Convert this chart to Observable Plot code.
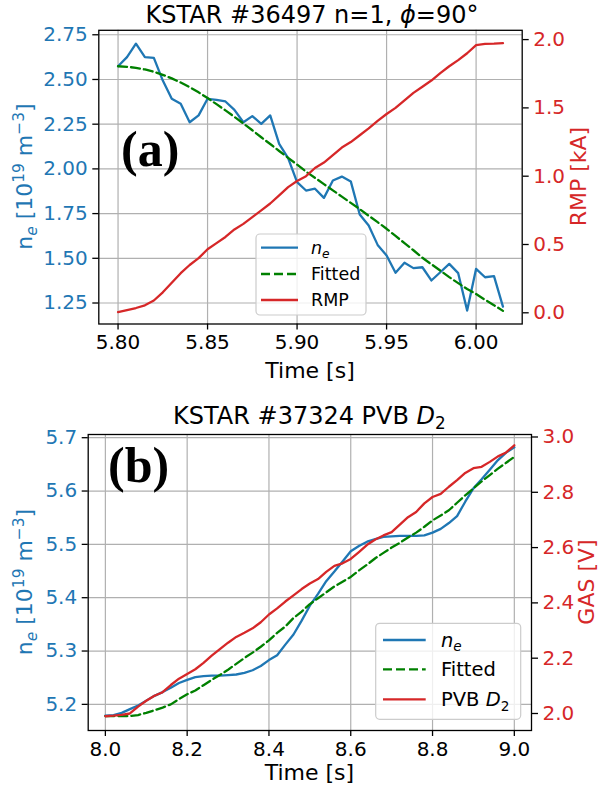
<!DOCTYPE html>
<html><head><meta charset="utf-8">
<script src="https://cdn.jsdelivr.net/npm/d3@7"></script>
<script src="https://cdn.jsdelivr.net/npm/@observablehq/plot@0.6"></script>
<style>
body{margin:0;background:#fff;}
#chart{width:600px;height:795px;overflow:hidden;}
svg{display:block;}
</style></head><body><div id="chart"></div>
<script>
// ---------- Panel (a): KSTAR #36497 ----------
const timeA = [5.800,5.805,5.810,5.815,5.820,5.825,5.830,5.835,5.840,5.845,5.850,5.855,5.860,5.865,5.870,5.875,5.880,5.885,5.890,5.895,5.900,5.905,5.910,5.915,5.920,5.925,5.930,5.935,5.940,5.945,5.950,5.955,5.960,5.965,5.970,5.975,5.980,5.985,5.990,5.995,6.000,6.005,6.010,6.015];
const neA = [2.574,2.625,2.700,2.625,2.621,2.494,2.392,2.364,2.261,2.299,2.392,2.386,2.377,2.330,2.261,2.295,2.252,2.299,2.140,2.060,1.926,1.879,1.889,1.838,1.935,1.957,1.930,1.745,1.683,1.575,1.516,1.419,1.475,1.445,1.450,1.376,1.422,1.469,1.417,1.208,1.441,1.394,1.400,1.230];
const fitA = [2.574,2.571,2.565,2.556,2.543,2.526,2.506,2.483,2.457,2.428,2.396,2.362,2.327,2.291,2.254,2.216,2.177,2.139,2.100,2.062,2.024,1.985,1.950,1.915,1.880,1.845,1.810,1.775,1.738,1.702,1.665,1.625,1.585,1.545,1.503,1.467,1.431,1.395,1.361,1.328,1.300,1.268,1.238,1.206];
const rmpA = [0.005,0.020,0.035,0.055,0.090,0.150,0.220,0.290,0.350,0.400,0.465,0.510,0.555,0.610,0.651,0.700,0.750,0.800,0.860,0.920,0.965,1.000,1.060,1.100,1.155,1.210,1.250,1.300,1.350,1.405,1.455,1.500,1.555,1.610,1.655,1.700,1.755,1.805,1.850,1.900,1.960,1.968,1.970,1.974];
const xTicksA = [5.80,5.85,5.90,5.95,6.00];
const yTicksA = [1.25,1.50,1.75,2.00,2.25,2.50,2.75];
const rTicksA = [0.0,0.5,1.0,1.5,2.0];

// ---------- Panel (b): KSTAR #37324 ----------
const timeB = [8.00,8.02,8.04,8.06,8.08,8.10,8.12,8.14,8.16,8.18,8.20,8.22,8.24,8.26,8.28,8.30,8.32,8.34,8.36,8.38,8.40,8.42,8.44,8.46,8.48,8.50,8.52,8.54,8.56,8.58,8.60,8.62,8.64,8.66,8.68,8.70,8.72,8.74,8.76,8.78,8.80,8.82,8.84,8.86,8.88,8.90,8.92,8.94,8.96,8.98,9.00];
const neB = [5.179,5.180,5.184,5.191,5.198,5.207,5.216,5.223,5.231,5.240,5.246,5.251,5.253,5.254,5.254,5.255,5.256,5.259,5.264,5.272,5.283,5.292,5.312,5.331,5.357,5.385,5.407,5.431,5.449,5.468,5.487,5.497,5.505,5.510,5.514,5.515,5.516,5.516,5.516,5.517,5.522,5.529,5.540,5.553,5.580,5.605,5.622,5.640,5.658,5.672,5.682];
const fitB = [5.178,5.178,5.178,5.178,5.180,5.184,5.189,5.194,5.200,5.210,5.219,5.226,5.236,5.246,5.255,5.265,5.276,5.287,5.297,5.308,5.320,5.334,5.346,5.362,5.374,5.388,5.399,5.410,5.421,5.430,5.439,5.451,5.462,5.474,5.484,5.494,5.503,5.513,5.522,5.533,5.545,5.554,5.564,5.578,5.592,5.605,5.618,5.630,5.642,5.653,5.664];
const gasB = [1.990,1.992,1.995,2.000,2.025,2.046,2.064,2.077,2.103,2.126,2.143,2.160,2.183,2.209,2.233,2.256,2.277,2.292,2.308,2.330,2.358,2.380,2.405,2.427,2.450,2.470,2.486,2.512,2.534,2.543,2.559,2.584,2.610,2.629,2.644,2.656,2.683,2.710,2.729,2.760,2.783,2.794,2.820,2.844,2.870,2.887,2.892,2.910,2.930,2.944,2.970];
const xTicksB = [8.0,8.2,8.4,8.6,8.8,9.0];
const yTicksB = [5.2,5.3,5.4,5.5,5.6,5.7];
const rTicksB = [2.0,2.2,2.4,2.6,2.8,3.0];

const BLUE = "#1f77b4", GREEN = "#008000", RED = "#d62728", GRID = "#b0b0b0";
const FONT = "DejaVu Sans";
const LW = 2.3;

function makePanel(o) {
  const [y0, y1] = o.yDomain, [r0, r1] = o.rDomain;
  const toY = r => y0 + (r - r0) * (y1 - y0) / (r1 - r0);
  const toR = y => r0 + (y - y0) * (r1 - r0) / (y1 - y0);
  const rows = o.t.map((t, i) => ({t, ne: o.ne[i], fit: o.fit[i], sec: toY(o.sec[i])}));
  return Plot.plot({
    width: 600, height: o.height,
    marginLeft: o.ml, marginRight: o.mr, marginTop: o.mt, marginBottom: o.mb,
    style: {fontFamily: FONT, fontSize: o.tickSize + "px", background: "white", color: "black", overflow: "visible"},
    x: {domain: o.xDomain},
    y: {domain: o.yDomain},
    marks: [
      Plot.gridX(o.xTicks, {stroke: GRID, strokeOpacity: 1, strokeWidth: 1.2}),
      Plot.gridY(o.yTicks, {stroke: GRID, strokeOpacity: 1, strokeWidth: 1.2}),
      Plot.line(rows, {x: "t", y: "ne", stroke: BLUE, strokeWidth: LW}),
      Plot.line(rows, {x: "t", y: "fit", stroke: GREEN, strokeWidth: LW, strokeDasharray: "9,4"}),
      Plot.line(rows, {x: "t", y: "sec", stroke: RED, strokeWidth: LW}),
      Plot.frame({stroke: "black", strokeWidth: 1.3}),
      Plot.axisX({ticks: o.xTicks, tickFormat: d => d.toFixed(o.xDec), tickSize: 6, tickPadding: 5, stroke: "black", fill: "black", strokeWidth: 1.3, label: null}),
      Plot.axisY({anchor: "left", ticks: o.yTicks, tickFormat: d => d.toFixed(o.yDec), tickSize: 6, tickPadding: 5, stroke: "black", fill: BLUE, strokeWidth: 1.3, label: null}),
      Plot.axisY({anchor: "right", ticks: o.rTicks.map(toY), tickFormat: y => toR(y).toFixed(1), tickSize: 6, tickPadding: 5, stroke: "black", fill: RED, strokeWidth: 1.3, label: null})
    ]
  });
}

// rich text helper: parts = [{t, it, sub, sup}]
function rich(svg, x, y, parts, opt) {
  const s = opt.size;
  const g = d3.select(svg).append("g")
    .attr("transform", `translate(${x},${y})` + (opt.rotate ? ` rotate(${opt.rotate})` : ""));
  const text = g.append("text")
    .attr("x", 0).attr("y", 0)
    .attr("text-anchor", opt.anchor || "start")
    .attr("font-family", opt.family || FONT)
    .attr("font-size", s + "px")
    .attr("font-weight", opt.weight || "normal")
    .attr("fill", opt.fill || "black");
  let shift = 0;
  for (const p of parts) {
    const ts = text.append("tspan").text(p.t);
    let target = 0, fs = s;
    if (p.sub) { target = 0.22 * s; fs = 0.7 * s; }
    if (p.sup) { target = -0.38 * s; fs = 0.7 * s; }
    ts.attr("dy", target - shift).attr("font-size", fs + "px");
    if (p.it) ts.attr("font-style", "italic");
    shift = target;
  }
  return g;
}

function legend(svg, L) {
  const g = d3.select(svg).append("g");
  g.append("rect").attr("x", L.x).attr("y", L.y).attr("width", L.w).attr("height", L.h)
    .attr("rx", 4).attr("fill", "white").attr("fill-opacity", 0.8)
    .attr("stroke", "#cccccc").attr("stroke-width", 1.2);
  L.items.forEach((it, i) => {
    const cy = L.rows[i];
    g.append("line").attr("x1", L.s1).attr("x2", L.s2).attr("y1", cy).attr("y2", cy)
      .attr("stroke", it.color).attr("stroke-width", LW)
      .attr("stroke-dasharray", it.dash ? "9,4" : null);
    rich(svg, L.tx, cy + L.size * 0.36, it.label, {size: L.size});
  });
}

const root = document.getElementById("chart");

// ---- Panel (a) ----
const svgA = makePanel({
  t: timeA, ne: neA, fit: fitA, sec: rmpA,
  height: 390, ml: 98.3, mr: 78.3, mt: 29.8, mb: 66.5,
  xDomain: [5.78925, 6.02575], yDomain: [1.1326, 2.775], rDomain: [-0.082, 2.068],
  xTicks: xTicksA, yTicks: yTicksA, rTicks: rTicksA, xDec: 2, yDec: 2, tickSize: 20
});
root.appendChild(svgA);
rich(svgA, 312, 23, [{t: "KSTAR #36497 n=1, "}, {t: "ϕ", it: true}, {t: "=90°"}], {size: 24, anchor: "middle"});
rich(svgA, 310, 377.5, [{t: "Time [s]"}], {size: 22, anchor: "middle"});
rich(svgA, 32, 176.6, [{t: "n"}, {t: "e", sub: true, it: true}, {t: " [10"}, {t: "19", sup: true}, {t: " m"}, {t: "−3", sup: true}, {t: "]"}], {size: 22, anchor: "middle", rotate: -90, fill: BLUE});
rich(svgA, 586, 176.6, [{t: "RMP [kA]"}], {size: 22, anchor: "middle", rotate: -90, fill: RED});
rich(svgA, 121, 166, [{t: "(a)"}], {size: 50, family: "Liberation Serif", weight: "bold"});
legend(svgA, {
  x: 256, y: 234, w: 110, h: 81, rows: [247.7, 274, 300], s1: 261, s2: 298, tx: 311, size: 17.5,
  items: [
    {color: BLUE, label: [{t: "n", it: true}, {t: "e", it: true, sub: true}]},
    {color: GREEN, dash: true, label: [{t: "Fitted"}]},
    {color: RED, label: [{t: "RMP"}]}
  ]
});

// ---- Panel (b) ----
const svgB = makePanel({
  t: timeB, ne: neB, fit: fitB, sec: gasB,
  height: 405, ml: 87.7, mr: 69, mt: 44, mb: 65,
  xDomain: [7.958, 9.042], yDomain: [5.151, 5.706], rDomain: [1.9385, 3.009],
  xTicks: xTicksB, yTicks: yTicksB, rTicks: rTicksB, xDec: 1, yDec: 1, tickSize: 20
});
root.appendChild(svgB);
rich(svgB, 309.4, 34, [{t: "KSTAR #37324 PVB "}, {t: "D", it: true}, {t: "2", sub: true}], {size: 24, anchor: "middle"});
rich(svgB, 309.4, 390, [{t: "Time [s]"}], {size: 22, anchor: "middle"});
rich(svgB, 32, 192, [{t: "n"}, {t: "e", sub: true, it: true}, {t: " [10"}, {t: "19", sup: true}, {t: " m"}, {t: "−3", sup: true}, {t: "]"}], {size: 22, anchor: "middle", rotate: -90, fill: BLUE});
rich(svgB, 594, 192, [{t: "GAS [V]"}], {size: 22, anchor: "middle", rotate: -90, fill: RED});
rich(svgB, 108, 92, [{t: "(b)"}], {size: 50, family: "Liberation Serif", weight: "bold"});
legend(svgB, {
  x: 375.7, y: 233.3, w: 145, h: 96, rows: [250, 279.3, 309.3], s1: 383, s2: 425.7, tx: 441, size: 19.5,
  items: [
    {color: BLUE, label: [{t: "n", it: true}, {t: "e", it: true, sub: true}]},
    {color: GREEN, dash: true, label: [{t: "Fitted"}]},
    {color: RED, label: [{t: "PVB "}, {t: "D", it: true}, {t: "2", sub: true}]}
  ]
});
</script>
</body></html>
